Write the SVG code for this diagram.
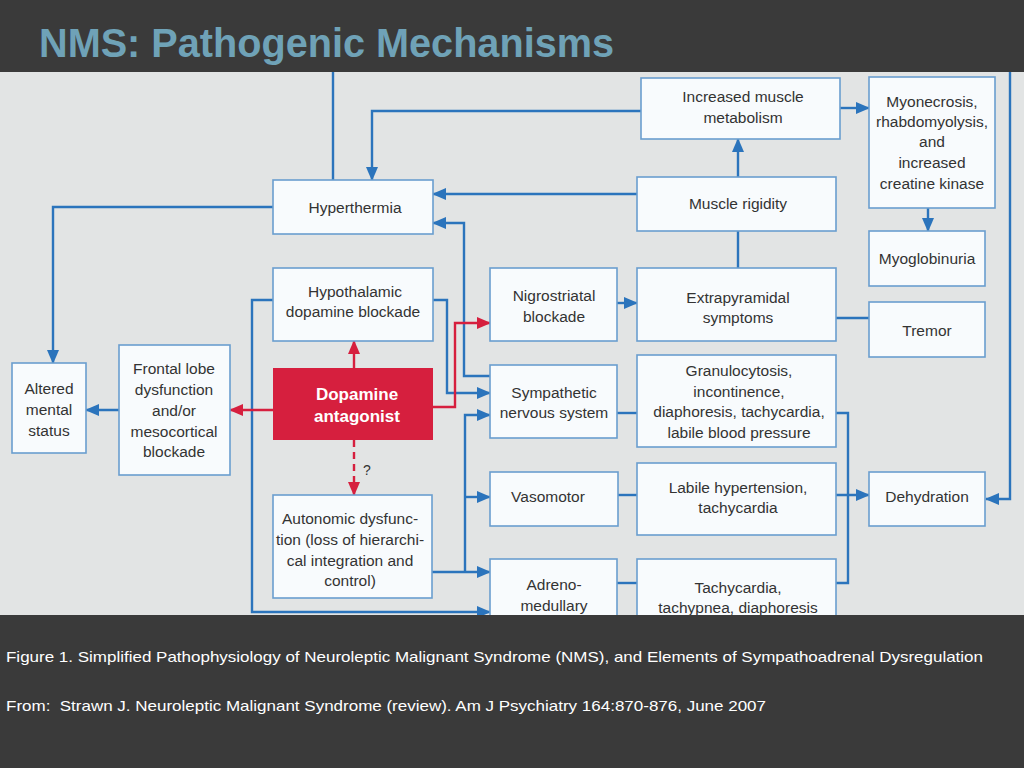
<svg xmlns="http://www.w3.org/2000/svg" width="1024" height="768" viewBox="0 0 1024 768">
<style>
.box{fill:#f8fbfd;stroke:#6a9ecf;stroke-width:1.6}
.t{font-family:"Liberation Sans",Arial,sans-serif;font-size:15.5px;fill:#333;text-anchor:middle}
.tw{font-family:"Liberation Sans",Arial,sans-serif;font-size:17px;font-weight:bold;fill:#fff;text-anchor:middle}
.c{fill:none;stroke:#2b74bc;stroke-width:2.4}
.cr{fill:none;stroke:#d61f3e;stroke-width:2.4}
.cap{font-family:"Liberation Sans",Arial,sans-serif;font-size:14.5px;fill:#fff;white-space:pre}
</style>
<defs>
<marker id="ab" markerUnits="userSpaceOnUse" markerWidth="14" markerHeight="12" refX="13" refY="6" orient="auto"><path d="M0,0 L14,6 L0,12 z" fill="#2b74bc"/></marker>
<marker id="ar" markerUnits="userSpaceOnUse" markerWidth="14" markerHeight="12" refX="13" refY="6" orient="auto"><path d="M0,0 L14,6 L0,12 z" fill="#d61f3e"/></marker>
</defs>
<rect x="0" y="0" width="1024" height="768" fill="#3a3a3a"/>
<rect x="0" y="72" width="1024" height="543" fill="#e2e4e4"/>
<text x="39" y="57" font-family="'Liberation Sans',Arial,sans-serif" font-size="40" font-weight="bold" fill="#6fa2b7" textLength="575" lengthAdjust="spacingAndGlyphs">NMS: Pathogenic Mechanisms</text>

<g id="connectors">
<path class="c" d="M333,72 V180"/>
<path class="c" d="M641,111 H372 V180" marker-end="url(#ab)"/>
<path class="c" d="M637,194 H433" marker-end="url(#ab)"/>
<path class="c" d="M490,376 H464 V223 H433" marker-end="url(#ab)"/>
<path class="c" d="M273,207 H53 V363" marker-end="url(#ab)"/>
<path class="c" d="M433,300 H447 V393 H490" marker-end="url(#ab)"/>
<path class="c" d="M273,300 H252 V612 H490" marker-end="url(#ab)"/>
<path class="cr" d="M433,407 H455 V323 H490" marker-end="url(#ar)"/>
<path class="cr" d="M273,410 H230" marker-end="url(#ar)"/>
<path class="c" d="M119,410 H86" marker-end="url(#ab)"/>
<path class="cr" d="M354,368 V341" marker-end="url(#ar)"/>
<path class="cr" d="M354,440 V495" stroke-dasharray="7,5" marker-end="url(#ar)"/>
<text x="363" y="475" font-family="'Liberation Sans',Arial,sans-serif" font-size="14" fill="#333">?</text>
<path class="c" d="M432,572 H490" marker-end="url(#ab)"/>
<path class="c" d="M465,572 V415 H490" marker-end="url(#ab)"/>
<path class="c" d="M465,497 H490" marker-end="url(#ab)"/>
<path class="c" d="M617,303 H637" marker-end="url(#ab)"/>
<path class="c" d="M738,268 V231"/>
<path class="c" d="M738,177 V139" marker-end="url(#ab)"/>
<path class="c" d="M840,108 H869" marker-end="url(#ab)"/>
<path class="c" d="M928,208 V231" marker-end="url(#ab)"/>
<path class="c" d="M836,318 H869"/>
<path class="c" d="M617,413 H637"/>
<path class="c" d="M618,495 H637"/>
<path class="c" d="M617,583 H637"/>
<path class="c" d="M836,413 H848 V583 H836"/>
<path class="c" d="M836,495 H869" marker-end="url(#ab)"/>
<path class="c" d="M1010,72 V499 H986" marker-end="url(#ab)"/>
</g>

<g id="hyperthermia"><rect class="box" x="273" y="180" width="160" height="54"/><text class="t" x="355" y="213">Hyperthermia</text></g>
<g id="hypothalamic"><rect class="box" x="273" y="268" width="160" height="73"/><text class="t" x="355" y="297">Hypothalamic</text><text class="t" x="353" y="317">dopamine blockade</text></g>
<g id="metabolism"><rect class="box" x="641" y="78" width="199" height="61"/><text class="t" x="743" y="102">Increased muscle</text><text class="t" x="743" y="123">metabolism</text></g>
<g id="myonecrosis"><rect class="box" x="869" y="77" width="126" height="131"/><text class="t" x="932" y="107">Myonecrosis,</text><text class="t" x="932" y="127">rhabdomyolysis,</text><text class="t" x="932" y="147">and</text><text class="t" x="932" y="168">increased</text><text class="t" x="932" y="189">creatine kinase</text></g>
<g id="rigidity"><rect class="box" x="637" y="177" width="199" height="54"/><text class="t" x="738" y="209">Muscle rigidity</text></g>
<g id="myoglobinuria"><rect class="box" x="869" y="231" width="116" height="55"/><text class="t" x="927" y="264">Myoglobinuria</text></g>
<g id="nigrostriatal"><rect class="box" x="490" y="268" width="127" height="73"/><text class="t" x="554" y="301">Nigrostriatal</text><text class="t" x="554" y="322">blockade</text></g>
<g id="extrapyramidal"><rect class="box" x="637" y="268" width="199" height="73"/><text class="t" x="738" y="303">Extrapyramidal</text><text class="t" x="738" y="323">symptoms</text></g>
<g id="tremor"><rect class="box" x="869" y="302" width="116" height="55"/><text class="t" x="927" y="336">Tremor</text></g>
<g id="granulocytosis"><rect class="box" x="637" y="355" width="199" height="92"/><text class="t" x="739" y="376">Granulocytosis,</text><text class="t" x="739" y="397">incontinence,</text><text class="t" x="739" y="417">diaphoresis, tachycardia,</text><text class="t" x="739" y="438">labile blood pressure</text></g>
<g id="sns"><rect class="box" x="490" y="365" width="127" height="73"/><text class="t" x="554" y="398">Sympathetic</text><text class="t" x="554" y="418">nervous system</text></g>
<g id="vasomotor"><rect class="box" x="490" y="472" width="128" height="54"/><text class="t" x="548" y="502">Vasomotor</text></g>
<g id="labile"><rect class="box" x="637" y="463" width="199" height="72"/><text class="t" x="738" y="493">Labile hypertension,</text><text class="t" x="738" y="513">tachycardia</text></g>
<g id="dehydration"><rect class="box" x="869" y="472" width="116" height="54"/><text class="t" x="927" y="502">Dehydration</text></g>
<g id="adreno"><rect class="box" x="490" y="559" width="127" height="70"/><text class="t" x="554" y="590">Adreno-</text><text class="t" x="554" y="611">medullary</text></g>
<g id="tachycardia"><rect class="box" x="637" y="559" width="199" height="70"/><text class="t" x="738" y="593">Tachycardia,</text><text class="t" x="738" y="613">tachypnea, diaphoresis</text></g>
<g id="altered"><rect class="box" x="12" y="363" width="74" height="90"/><text class="t" x="49" y="394">Altered</text><text class="t" x="49" y="415">mental</text><text class="t" x="49" y="436">status</text></g>
<g id="frontal"><rect class="box" x="119" y="345" width="111" height="130"/><text class="t" x="174" y="374">Frontal lobe</text><text class="t" x="174" y="395">dysfunction</text><text class="t" x="174" y="416">and/or</text><text class="t" x="174" y="437">mesocortical</text><text class="t" x="174" y="457">blockade</text></g>
<g id="dopamine"><rect x="273" y="368" width="160" height="72" fill="#d61f3e"/><text class="tw" x="357" y="400">Dopamine</text><text class="tw" x="357" y="422">antagonist</text></g>
<g id="autonomic"><rect class="box" x="273" y="495" width="159" height="103"/><text class="t" x="350" y="524">Autonomic dysfunc-</text><text class="t" x="350" y="545">tion (loss of hierarchi-</text><text class="t" x="350" y="566">cal integration and</text><text class="t" x="350" y="586">control)</text></g>

<rect x="0" y="615" width="1024" height="153" fill="#3a3a3a"/>
<text class="cap" x="6" y="662" textLength="977" lengthAdjust="spacingAndGlyphs">Figure 1. Simplified Pathophysiology of Neuroleptic Malignant Syndrome (NMS), and Elements of Sympathoadrenal Dysregulation</text>
<text class="cap" x="6" y="711" textLength="760" lengthAdjust="spacingAndGlyphs">From:&#160; Strawn J. Neuroleptic Malignant Syndrome (review). Am J Psychiatry 164:870-876, June 2007</text>
</svg>
